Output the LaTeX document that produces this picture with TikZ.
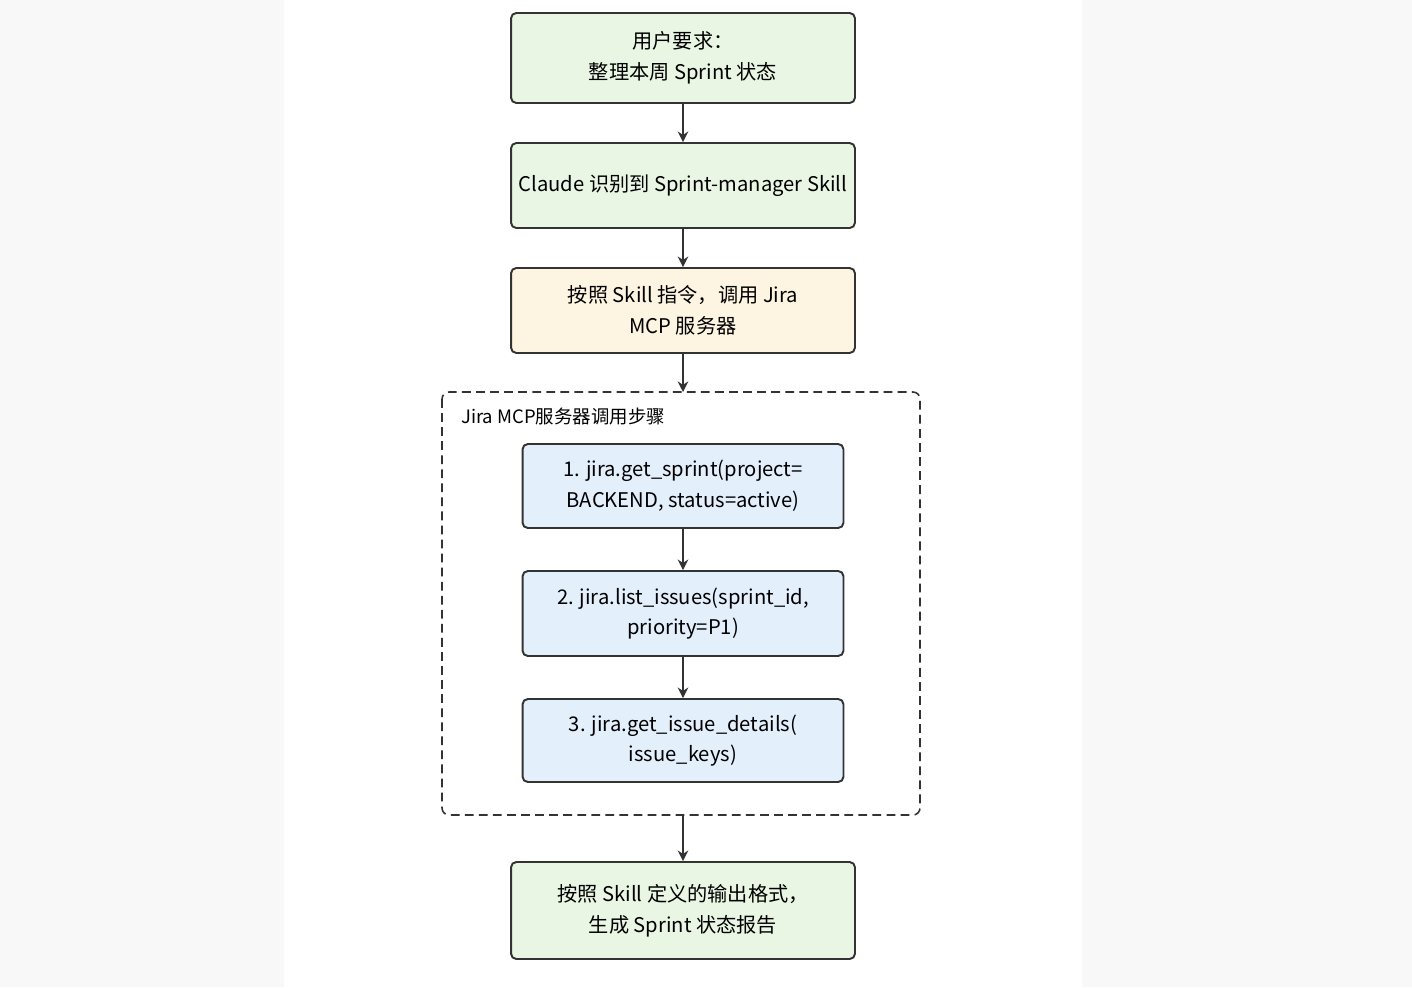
\documentclass[tikz,border=0pt]{standalone}
\usepackage{fontspec}
\setmainfont{Noto Sans CJK SC}
\usepackage{tikz}
\usetikzlibrary{arrows.meta}
\definecolor{boxgreen}{HTML}{EAF6E4}
\definecolor{boxyellow}{HTML}{FDF5E1}
\definecolor{boxblue}{HTML}{E4EFFC}
\definecolor{edgegray}{HTML}{333333}
\definecolor{pagegray}{HTML}{F8F8F8}

\begin{document}
\begin{tikzpicture}[x=0.02cm,y=-0.02cm,
  flowbox/.style={draw=edgegray, line width=1.1pt, rounded corners=3pt, align=center,
    minimum width=6.88cm, font=\fontsize{11.5}{17.5}\selectfont, inner sep=0pt},
  stepbox/.style={flowbox, minimum width=6.42cm, fill=boxblue},
  flowarrow/.style={draw=edgegray, line width=1.1pt, -{Stealth[length=6pt,width=6pt]}}]
\useasboundingbox (0,0) rectangle (1412,987);
\fill[pagegray] (0,0) rectangle (1412,987);
\fill[white] (284,0) rectangle (1082,987);
%
\node[flowbox, fill=boxgreen, minimum height=1.8cm] (ask) at (683,58) {用户要求：\\整理本周 Sprint 状态};
\node[flowbox, fill=boxgreen, minimum height=1.7cm] (detect) at (683,185.5) {Claude 识别到 Sprint-manager Skill};
\node[flowbox, fill=boxyellow, minimum height=1.7cm] (call) at (683,310.5) {按照 Skill 指令，调用 Jira\\MCP 服务器};
%
\draw[edgegray, line width=0.9pt, dashed, dash pattern=on 5pt off 3pt, rounded corners=4pt] (442,392) rectangle (920,815);
\coordinate (grptop) at (683,392);
\coordinate (grpbot) at (683,815);
\node[anchor=west, font=\fontsize{10.5}{12}\selectfont] (grplabel) at (455,417) {Jira MCP服务器调用步骤};
%
\node[stepbox, minimum height=1.68cm] (step1) at (683,486) {1. jira.get\_sprint(project=\\BACKEND, status=active)};
\node[stepbox, minimum height=1.7cm] (step2) at (683,613.5) {2. jira.list\_issues(sprint\_id,\\priority=P1)};
\node[stepbox, minimum height=1.66cm] (step3) at (683,740.5) {3. jira.get\_issue\_details(\\issue\_keys)};
%
\node[flowbox, fill=boxgreen, minimum height=1.94cm] (report) at (683,910.5) {按照 Skill 定义的输出格式，\\生成 Sprint 状态报告};
%
\draw[flowarrow] (ask) -- (detect);
\draw[flowarrow] (detect) -- (call);
\draw[flowarrow] (call) -- (grptop);
\draw[flowarrow] (step1) -- (step2);
\draw[flowarrow] (step2) -- (step3);
\draw[flowarrow] (grpbot) -- (report);
\end{tikzpicture}
\end{document}
